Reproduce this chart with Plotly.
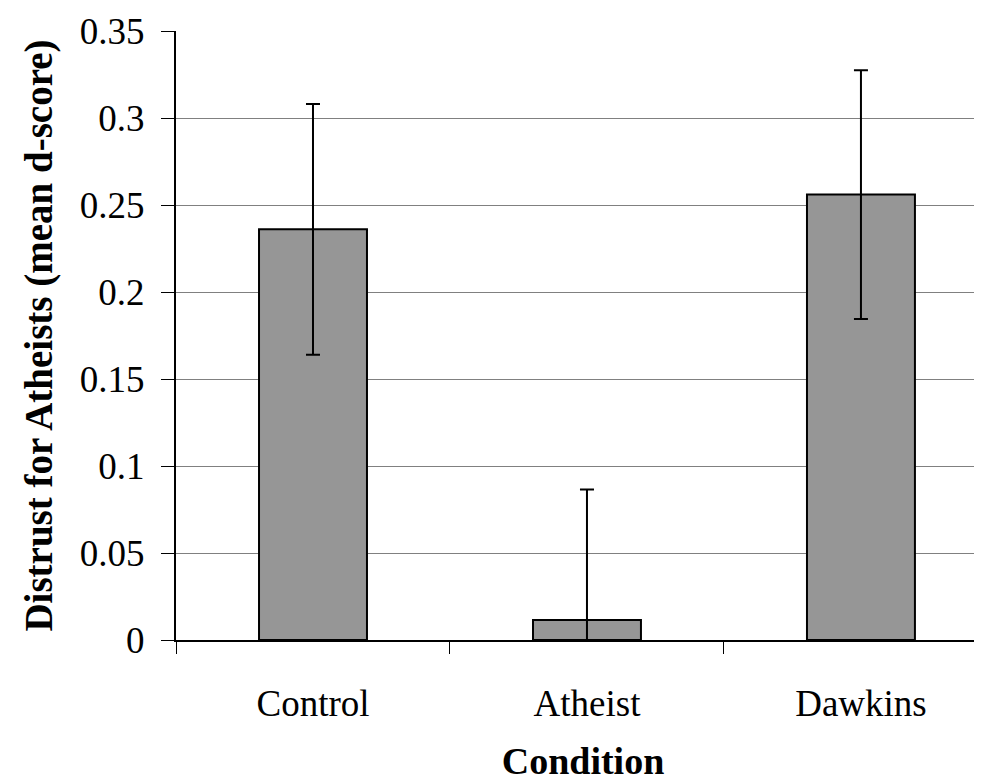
import plotly.graph_objects as go

categories = ["Control", "Atheist", "Dawkins"]
means = [0.236, 0.0115, 0.256]
errors = [0.072, 0.075, 0.0715]
y_ticks = [0, 0.05, 0.1, 0.15, 0.2, 0.25, 0.3, 0.35]
y_tick_labels = ["0", "0.05", "0.1", "0.15", "0.2", "0.25", "0.3", "0.35"]

font_family = "Liberation Serif"

fig = go.Figure(
    go.Bar(
        x=categories,
        y=means,
        width=0.394,
        marker=dict(color="#969696", line=dict(color="black", width=2)),
        error_y=dict(type="data", array=errors, visible=True,
                     color="black", thickness=2, width=7),
    )
)

fig.update_layout(
    width=982, height=784,
    margin=dict(l=168, r=0, t=23, b=152),
    plot_bgcolor="white", paper_bgcolor="white",
    showlegend=False,
    font=dict(family=font_family, color="black", size=37),
)

fig.update_xaxes(
    type="category",
    range=[-0.5, 2.471],
    tickson="boundaries",
    ticks="outside", ticklen=12, tickwidth=1, tickcolor="black",
    ticklabelstandoff=30,
    showline=True, linecolor="black", linewidth=2,
    showgrid=False,
    automargin=False,
    tickfont=dict(family=font_family, size=37),
    title=dict(text="<b>Condition</b>", font=dict(family=font_family, size=38), standoff=24),
)

fig.update_yaxes(
    range=[0, 0.35],
    tickvals=y_ticks, ticktext=y_tick_labels,
    ticks="outside", ticklen=13, tickwidth=1, tickcolor="black",
    ticklabelstandoff=9,
    showline=True, linecolor="black", linewidth=2,
    showgrid=True, gridcolor="#808080", gridwidth=1,
    zeroline=False,
    automargin=False,
    tickfont=dict(family=font_family, size=37),
    title=dict(text="<b>Distrust for Atheists (mean d-score)</b>", font=dict(family=font_family, size=39), standoff=15),
)

fig.write_html("out.html")
